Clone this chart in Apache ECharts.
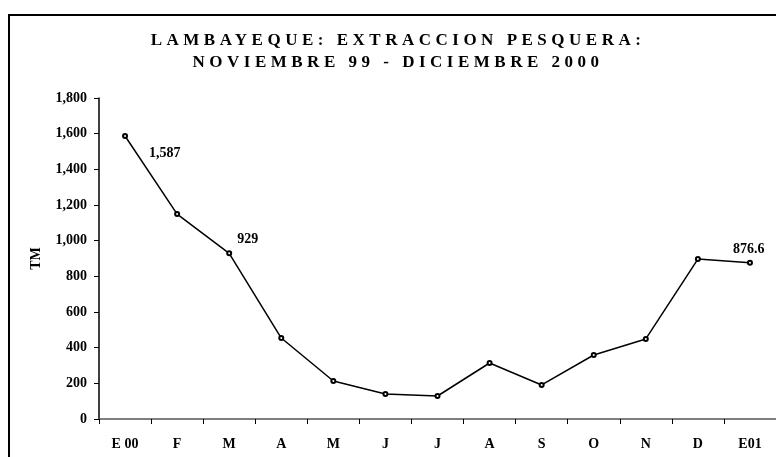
<!DOCTYPE html>
<html>
<head>
<meta charset="utf-8">
<script src="https://cdn.jsdelivr.net/npm/echarts@6/dist/echarts.min.js"></script>
<style>
  html, body { margin: 0; padding: 0; background: #fff; }
  .wrap { position: relative; width: 776px; height: 457px; overflow: hidden; }
  #chart { width: 776px; height: 457px; }
  .title {
    position: absolute;
    top: 29px;
    left: 10px;
    width: 776px;
    text-align: center;
    font-family: "Liberation Serif", "Times New Roman", serif;
    font-weight: bold;
    font-size: 17px;
    line-height: 22px;
    letter-spacing: 4.5px;
    color: #000;
  }
</style>
</head>
<body>
<div class="wrap">
  <div id="chart"></div>
  <div class="title">LAMBAYEQUE: EXTRACCION PESQUERA:<br>NOVIEMBRE 99 - DICIEMBRE 2000</div>
</div>
<script>
// meses (E 00 .. E01)
var months = ['E 00', 'F', 'M', 'A', 'M', 'J', 'J', 'A', 'S', 'O', 'N', 'D', 'E01'];
// extraccion en TM
var tm = [1587, 1149, 929, 454, 213, 140, 129, 314, 191, 359, 449, 897, 876.6];
// etiquetas que se muestran sobre la linea
var labelIdx = [0, 2, 12];
var labelText = ['1,587', '929', '876.6'];
var labelPos = [[27, 20], [11, -11], [-14, -10]];

var serif = '"Liberation Serif", "Times New Roman", serif';

var myChart = echarts.init(document.getElementById('chart'));

var lineData = tm.map(function (v, i) {
    var k = labelIdx.indexOf(i);
    if (k < 0) return v;
    return {
        value: v,
        label: {
            show: true,
            position: labelPos[k],
            align: 'left',
            verticalAlign: 'middle',
            formatter: labelText[k],
            color: '#000',
            fontFamily: serif,
            fontWeight: 'bold',
            fontSize: 14
        }
    };
});

var option = {
    backgroundColor: '#fff',
    animation: false,
    graphic: [{
        type: 'rect',
        shape: { x: 9, y: 15, width: 800, height: 500 },
        style: { fill: 'none', stroke: '#000', lineWidth: 2 },
        silent: true
    }],
    grid: {
        left: 99,
        top: 98,
        width: 685,
        bottom: 38
    },
    xAxis: {
        type: 'category',
        data: months,
        boundaryGap: true,
        axisLine: { lineStyle: { color: '#555', width: 1.5 } },
        axisTick: { show: true, length: 5, lineStyle: { color: '#000' } },
        axisLabel: {
            color: '#000',
            fontFamily: serif,
            fontWeight: 'bold',
            fontSize: 14,
            margin: 18,
            interval: 0
        },
        splitLine: { show: false }
    },
    yAxis: {
        type: 'value',
        min: 0,
        max: 1800,
        interval: 200,
        name: 'TM',
        nameLocation: 'middle',
        nameRotate: 90,
        nameGap: 56,
        nameTextStyle: {
            color: '#000',
            fontFamily: serif,
            fontWeight: 'bold',
            fontSize: 14
        },
        axisLine: { show: true, lineStyle: { color: '#000', width: 1.5 } },
        axisTick: { show: true, length: 5, lineStyle: { color: '#000' } },
        axisLabel: {
            color: '#000',
            fontFamily: serif,
            fontWeight: 'bold',
            fontSize: 14,
            margin: 12,
            formatter: function (v) { return v.toLocaleString('en-US'); }
        },
        splitLine: { show: false }
    },
    series: [{
        type: 'line',
        data: lineData,
        symbol: 'emptyCircle',
        symbolSize: 4,
        lineStyle: { color: '#000', width: 1.5 },
        itemStyle: { color: '#000', borderWidth: 1 }
    }]
};
myChart.setOption(option);
</script>
</body>
</html>
